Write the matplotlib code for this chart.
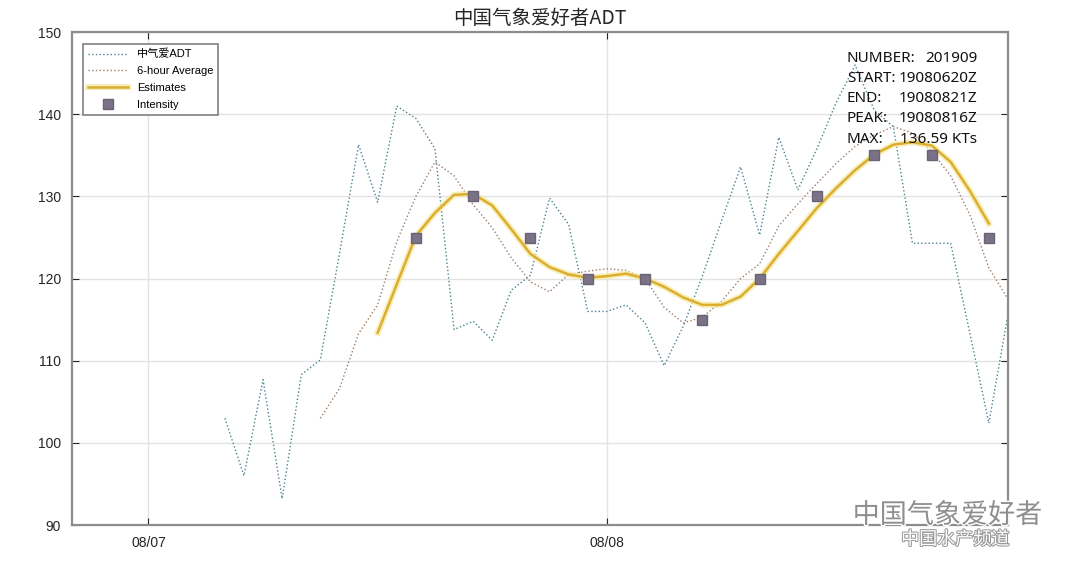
import matplotlib
matplotlib.use('Agg')
import matplotlib.pyplot as plt
import matplotlib.patheffects as pe

plt.rcParams['font.family'] = ['Liberation Sans', 'Noto Sans CJK SC', 'DejaVu Sans']

# hours after 08/07 00:00
adt_hours = list(range(4, 46))
adt = [103.0, 96.0, 107.7, 93.2, 108.3, 110.1, 123.0, 136.3, 129.3, 141.0,
       139.5, 135.8, 113.8, 114.8, 112.5, 118.6, 120.4, 129.8, 126.6, 116.0,
       116.0, 116.8, 114.6, 109.4, 114.2, 120.3, 127.0, 133.6, 125.3, 137.2,
       130.8, 135.8, 141.4, 146.0, 140.5, 138.5, 124.3, 124.3, 124.3, 113.4,
       102.4, 115.6]

avg_hours = list(range(9, 46))
avg6 = [103.0, 106.6, 113.3, 116.8, 124.5, 130.0, 134.2, 132.5, 129.0, 126.2,
        122.5, 119.6, 118.4, 120.5, 120.9, 121.2, 121.0, 120.0, 116.5, 114.6,
        115.3, 117.2, 120.0, 121.8, 126.4, 129.1, 131.6, 134.0, 136.1, 137.5,
        138.5, 137.7, 135.5, 132.5, 127.8, 121.3, 117.5]

est_hours = list(range(12, 45))
estimates = [113.4, 119.3, 125.2, 128.0, 130.2, 130.3, 128.9, 126.0, 123.0,
             121.4, 120.5, 120.1, 120.3, 120.6, 120.0, 119.0, 117.7, 116.8,
             116.8, 117.8, 120.0, 123.0, 125.8, 128.6, 131.0, 133.2, 135.1,
             136.3, 136.6, 136.2, 134.2, 130.7, 126.7]

int_hours = [14, 17, 20, 23, 26, 29, 32, 35, 38, 41, 44]
intensity = [125, 130, 125, 120, 120, 115, 120, 130, 135, 135, 125]

day_ticks = [0, 24]
day_labels = ['08/07', '08/08']

info_labels = ['NUMBER:', 'START:', 'END:', 'PEAK:', 'MAX:']
info_values = ['201909', '19080620Z', '19080821Z', '19080816Z', '136.59 KTs']

fig = plt.figure(figsize=(10.77, 5.62), dpi=100)
ax = fig.add_axes([0.0669, 0.0658, 0.869, 0.877])

ax.plot(adt_hours, adt, ':', color='#4a8290', lw=1.0, label='中气爱ADT')
ax.plot(avg_hours, avg6, ':', color='#9c7e68', lw=1.0, label='6-hour Average')
ax.plot(est_hours, estimates, '-', color='#dcae2c', lw=1.8, label='Estimates',
        path_effects=[pe.Stroke(linewidth=4.5, foreground='#f6e9a6', alpha=0.7),
                      pe.Normal()])
ax.plot(int_hours, intensity, 's', color='#7c7287', markeredgecolor='#6a6275',
        markersize=7, linestyle='none', label='Intensity')

ax.set_xlim(-4, 45)
ax.set_ylim(90, 150)
ax.set_yticks(range(90, 151, 10))
ax.set_xticks(day_ticks)
ax.set_xticklabels(day_labels)
ax.grid(True, color='#e3e3e3', lw=1)
ax.set_axisbelow(True)
ax.tick_params(direction='in', length=5, width=0.8, colors='#262626',
               labelsize=10, top=True, right=True, pad=8)
for s in ax.spines.values():
    s.set_color('#8c8c8c')
    s.set_linewidth(1.6)

ax.set_title('中国气象爱好者ADT', fontsize=14, family=['Noto Sans CJK SC'],
             color='#262626', pad=6)

leg = ax.legend(loc='upper left', bbox_to_anchor=(0.0118, 0.976),
                borderaxespad=0, fontsize=8, handlelength=3.6,
                labelspacing=0.62, fancybox=False, framealpha=1,
                edgecolor='#808080', borderpad=0.45)
leg.get_frame().set_linewidth(1.2)

ys = [0.947, 0.906, 0.865, 0.824, 0.783]
for lab, val, y in zip(info_labels, info_values, ys):
    ax.text(0.828, y, lab, transform=ax.transAxes, fontsize=11,
            family=['Noto Sans'], va='center', ha='left', color='#111111')
    ax.text(0.967, y, val, transform=ax.transAxes, fontsize=11,
            family=['Noto Sans'], va='center', ha='right', color='#111111')

# watermark
fig.text(0.968, 0.083, '中国气象爱好者', fontsize=19.5, color='#8e8e8e',
         family=['Noto Sans CJK SC'], ha='right', va='center',
         path_effects=[pe.withStroke(linewidth=2, foreground='white')])
fig.text(0.937, 0.040, '中国水产频道', fontsize=13, color='white',
         family=['Noto Sans CJK SC'], ha='right', va='center', style='italic',
         path_effects=[pe.withStroke(linewidth=1.5, foreground='#9a9a9a')])

fig.savefig('out.png', dpi=100)
plt.close(fig)
